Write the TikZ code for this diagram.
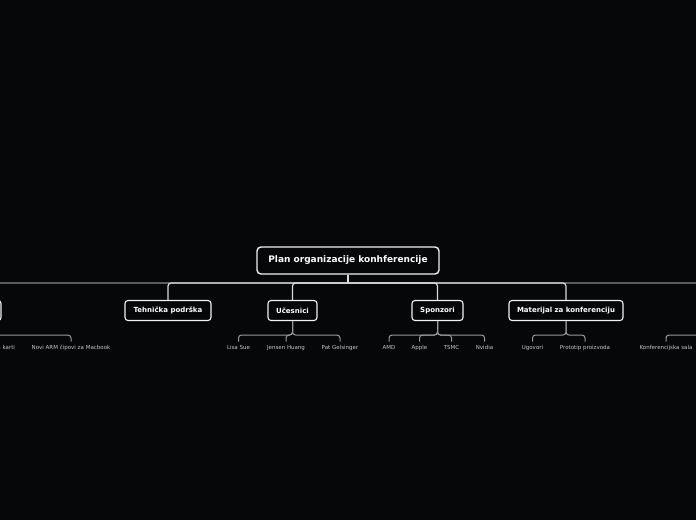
\documentclass[tikz,border=0pt]{standalone}
\usepackage{fontspec}
\setmainfont{DejaVu Sans}
\definecolor{bg}{HTML}{060709}
\definecolor{boxline}{HTML}{F2F2F2}
\definecolor{mainline}{HTML}{DCDCDC}
\definecolor{outerline}{HTML}{8A8A8A}
\definecolor{subline}{HTML}{9A9A9A}
\definecolor{leaftext}{HTML}{C8C8C8}
\begin{document}
\begin{tikzpicture}[x=1pt,y=-1pt,
  box/.style={draw=boxline, fill=bg, rounded corners=3pt, line width=1.1pt, text=white,
    font=\bfseries\fontsize{7}{8}\selectfont, inner sep=0pt, minimum height=20pt},
  rootbox/.style={box, line width=1.4pt, rounded corners=4pt, minimum height=27pt,
    minimum width=182pt, font=\bfseries\fontsize{9}{10}\selectfont},
  leaf/.style={text=leaftext, font=\fontsize{5.5}{6}\selectfont, inner xsep=0pt,
    inner ysep=4pt, text height=4pt, text depth=1.2pt},
  main/.style={draw=mainline, line width=1.2pt, rounded corners=3pt},
  outer/.style={draw=outerline, line width=1.2pt, rounded corners=3pt},
  sub/.style={draw=subline, line width=1pt, rounded corners=3pt}]
\useasboundingbox[fill=bg] (0,0) rectangle (696,520);

\coordinate (bus) at (0,283);
\coordinate (sbus) at (0,335);

% boxes
\node[rootbox] (root) at (348,260.5) {Plan organizacije konhferencije};
\node[box, minimum width=86pt] (teh) at (168,310.5) {Tehnička podrška};
\node[box, minimum width=49pt] (uce) at (292.5,310.5) {Učesnici};
\node[box, minimum width=51pt] (spo) at (437.5,310.5) {Sponzori};
\node[box, minimum width=114pt] (mat) at (566,310.5) {Materijal za konferenciju};
\node[box, minimum width=60pt] (fl) at (-29,310.5) {};
\node[box, minimum width=80pt] (fr) at (750,310.5) {};

% leaves
\node[leaf, text width=40pt, align=right] (l0) at (-5,348.5) {a karti};
\node[leaf] (l1) at (71,348.5) {Novi ARM čipovi za Macbook};
\node[leaf] (lisa) at (238.5,348.5) {Lisa Sue};
\node[leaf] (jen) at (286,348.5) {Jensen Huang};
\node[leaf] (pat) at (340,348.5) {Pat Gelsinger};
\node[leaf] (amd) at (389,348.5) {AMD};
\node[leaf] (app) at (419.5,348.5) {Apple};
\node[leaf] (tsmc) at (451.5,348.5) {TSMC};
\node[leaf] (nvd) at (484.5,348.5) {Nvidia};
\node[leaf] (ugo) at (532.5,348.5) {Ugovori};
\node[leaf] (pro) at (585,348.5) {Prototip proizvoda};
\node[leaf] (kon) at (666,348.5) {Konferencijska sala};

% main connectors
\draw[outer] (root.south |- bus) -| (fl.north);
\draw[outer] (root.south |- bus) -| (fr.north);
\draw[main] (root.south |- bus) -| (teh.north);
\draw[main] (root.south |- bus) -| (uce.north);
\draw[main] (root.south |- bus) -| (spo.north);
\draw[main] (root.south |- bus) -| (mat.north);
\draw[main, rounded corners=0pt] (root.south) -- (root.south |- bus);

% sub connectors
\foreach \p/\c in {fl/l0, fl/l1, uce/lisa, uce/jen, uce/pat, spo/amd, spo/app, spo/tsmc, spo/nvd, mat/ugo, mat/pro, fr/kon}
  \draw[sub] (\p.south) -- (\p.south |- sbus) -| (\c.north);
\end{tikzpicture}
\end{document}
